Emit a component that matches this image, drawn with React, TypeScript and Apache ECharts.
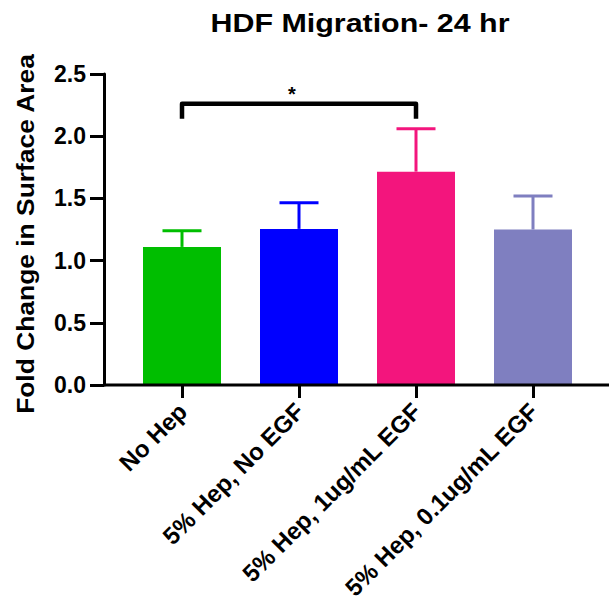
import React, { useEffect, useRef } from "react";
import * as echarts from "echarts";

const categories = ["No Hep", "5% Hep, No EGF", "5% Hep, 1ug/mL EGF", "5% Hep, 0.1ug/mL EGF"];
const means = [1.11, 1.255, 1.715, 1.25];
const upperErrors = [0.13, 0.21, 0.345, 0.27];
const barColors = ["#00BE00", "#0000FF", "#F3157D", "#7F7FC0"];
const yMin = 0;
const yMax = 2.5;
const yInterval = 0.5;
// significance bracket: [fromIndex, toIndex, topValue, legBottomValue, starX, starY]
const bracket = [0, 2, 2.26, 2.14, 0.94, 2.34];
const bracketLabel = "*";
const titleText = "HDF Migration- 24 hr";
const yAxisName = "Fold Change in Surface Area";

const FONT = "Arial, 'Liberation Sans', Helvetica, sans-serif";

export default function App() {
  const ref = useRef<HTMLDivElement>(null);
  useEffect(() => {
    if (!ref.current) return;
    const chart = echarts.init(ref.current, undefined, { renderer: "svg" });
    const option: any = {
      animation: false,
      backgroundColor: "#ffffff",
      grid: { left: 123.5, top: 74, width: 468, height: 311, containLabel: false },
      graphic: [
        {
          type: "text",
          x: 360,
          y: 23,
          scaleX: 1.17,
          style: {
            text: titleText,
            fontSize: 26,
            fontWeight: "bold",
            fontFamily: FONT,
            fill: "#000",
            textAlign: "center",
            textVerticalAlign: "middle",
          },
        },
        {
          type: "text",
          x: 25,
          y: 234,
          rotation: Math.PI / 2,
          scaleX: 1.1,
          style: {
            text: yAxisName,
            fontSize: 24,
            fontWeight: "bold",
            fontFamily: FONT,
            fill: "#000",
            textAlign: "center",
            textVerticalAlign: "middle",
          },
        },
        {
          type: "line",
          z: 100,
          shape: { x1: 104, y1: 385, x2: 609, y2: 385 },
          style: { stroke: "#000", lineWidth: 3 },
        },
      ],
      xAxis: {
        type: "category",
        data: categories,
        axisLine: { show: false },
        axisTick: { show: true, alignWithLabel: true, length: 13, lineStyle: { color: "#000", width: 3 } },
        axisLabel: {
          interval: 0,
          rotate: 45,
          margin: 6,
          align: "right",
          verticalAlign: "top",
          padding: [0, 11, 0, 0],
          fontSize: 24,
          fontWeight: "bold",
          fontFamily: FONT,
          color: "#000",
        },
        splitLine: { show: false },
      },
      yAxis: {
        type: "value",
        min: yMin,
        max: yMax,
        interval: yInterval,
        offset: 19.5,
        axisLine: { show: true, lineStyle: { color: "#000", width: 3 } },
        axisTick: { show: true, length: 14, lineStyle: { color: "#000", width: 3 } },
        axisLabel: {
          formatter: (v: number) => v.toFixed(1),
          fontSize: 23,
          fontWeight: "bold",
          fontFamily: FONT,
          color: "#000",
          margin: 18,
        },
        splitLine: { show: false },
      },
      series: [
        {
          type: "bar",
          barWidth: 78,
          data: means.map((m, i) => ({ value: m, itemStyle: { color: barColors[i] } })),
          z: 2,
        },
        {
          type: "custom",
          z: 3,
          data: means.map((m, i) => [i, m, upperErrors[i]]),
          renderItem: (params: any, api: any) => {
            const x = api.value(0);
            const m = api.value(1);
            const e = api.value(2);
            const base = api.coord([x, m]);
            const top = api.coord([x, m + e]);
            const bw = api.size([1, 0])[0];
            const half = bw / 6;
            const color = barColors[params.dataIndex];
            return {
              type: "group",
              children: [
                {
                  type: "line",
                  shape: { x1: top[0], y1: base[1], x2: top[0], y2: top[1] },
                  style: { stroke: color, lineWidth: 3 },
                },
                {
                  type: "line",
                  shape: { x1: top[0] - half, y1: top[1], x2: top[0] + half, y2: top[1] },
                  style: { stroke: color, lineWidth: 3 },
                },
              ],
            };
          },
        },
        {
          type: "custom",
          z: 4,
          data: [bracket],
          renderItem: (params: any, api: any) => {
            const a = api.value(0);
            const b = api.value(1);
            const top = api.value(2);
            const leg = api.value(3);
            const sx = api.value(4);
            const sy = api.value(5);
            const p1 = api.coord([a, leg]);
            const p2 = api.coord([a, top]);
            const p3 = api.coord([b, top]);
            const p4 = api.coord([b, leg]);
            const bw = api.size([1, 0])[0];
            const sp = api.coord([0, sy]);
            const starX = p1[0] + (sx - a) * bw;
            return {
              type: "group",
              children: [
                {
                  type: "polyline",
                  shape: { points: [p1, p2, p3, p4] },
                  style: { stroke: "#000", lineWidth: 4.5, fill: "none", lineJoin: "round" },
                },
                {
                  type: "text",
                  x: starX,
                  y: sp[1],
                  style: {
                    text: bracketLabel,
                    fontSize: 20,
                    fontWeight: "bold",
                    fontFamily: FONT,
                    fill: "#000",
                    textAlign: "center",
                    textVerticalAlign: "middle",
                  },
                },
              ],
            };
          },
        },
      ],
    };
    chart.setOption(option);
    return () => chart.dispose();
  }, []);
  return (
    <div
      ref={ref}
      style={{ position: "fixed", left: 0, top: 0, width: 609, height: 603, background: "#fff" }}
    />
  );
}
